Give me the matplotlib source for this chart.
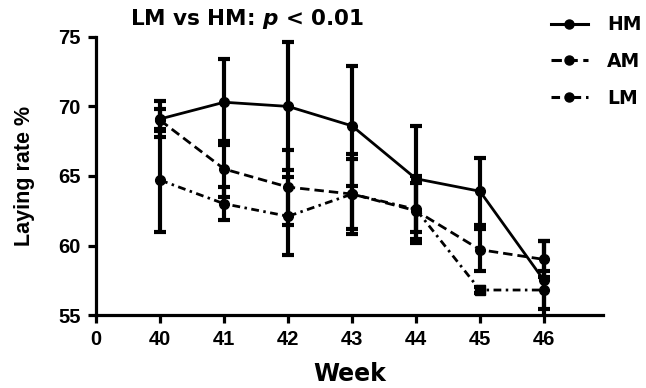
import matplotlib
matplotlib.use("Agg")
import matplotlib.pyplot as plt
from matplotlib.lines import Line2D

plt.rcParams['font.family'] = ['Liberation Sans', 'DejaVu Sans']
plt.rcParams['font.weight'] = 'bold'

weeks = ["40", "41", "42", "43", "44", "45", "46"]
hm = [69.1, 70.3, 70.0, 68.6, 64.8, 63.9, 57.5]
hm_err = [1.3, 3.1, 4.6, 4.3, 3.8, 2.4, 2.8]
am = [69.0, 65.5, 64.2, 63.7, 62.5, 59.7, 59.0]
am_err = [0.8, 2.0, 2.7, 2.5, 2.0, 1.5, 1.3]
lm = [64.7, 63.0, 62.1, 63.7, 62.6, 56.8, 56.8]
lm_err = [3.7, 1.2, 2.8, 2.9, 2.4, 0.2, 1.4]
lm_square_idx = 5

fig = plt.figure(figsize=(6.46, 3.88), dpi=100)
ax = fig.add_axes([0.149, 0.188, 0.784, 0.717])

x = list(range(1, len(weeks) + 1))
lw = 2.0
series = [
    ("HM", hm, hm_err, '-'),
    ("AM", am, am_err, (0, (3.4, 1.8))),
    ("LM", lm, lm_err, (0, (2.8, 1.6, 0.9, 1.6))),
]
for name, y, e, ls in series:
    if name == "LM":
        marks = [i for i in range(len(y)) if i != lm_square_idx]
    else:
        marks = list(range(len(y)))
    ax.errorbar(x, y, yerr=e, color='black', linestyle=ls, linewidth=lw,
                marker='o', markersize=7, markevery=marks,
                elinewidth=3, capsize=4, capthick=3)
    if name == "LM":
        ax.plot([x[lm_square_idx]], [y[lm_square_idx]], marker='s', markersize=7,
                color='black', linestyle='none')

ax.set_xlim(0, 7.92)
ax.set_ylim(55, 75)
ax.set_xticks([0] + x)
ax.set_xticklabels(["0"] + weeks)
ax.set_yticks([55, 60, 65, 70, 75])
for s in ['top', 'right']:
    ax.spines[s].set_visible(False)
for s in ['left', 'bottom']:
    ax.spines[s].set_linewidth(2.3)
ax.tick_params(width=2.3, length=6, labelsize=14.5, pad=5)
for lab in ax.get_xticklabels() + ax.get_yticklabels():
    lab.set_fontweight('bold')
ax.set_xlabel("Week", fontsize=17, fontweight='bold', labelpad=9,
              family=['DejaVu Sans'])
ax.set_ylabel("Laying rate %", fontsize=15.5, fontweight='bold', labelpad=17)

fig.text(0.382, 0.951, r"LM vs HM: $\boldsymbol{p}$ < 0.01", fontsize=15.5, fontweight='bold',
         ha='center', va='center', family=['DejaVu Sans'])

handles = [Line2D([0], [0], color='black', linestyle=ls, linewidth=2.2, marker='o', markersize=6.5)
           for _, _, _, ls in series]
leg = fig.legend(handles, [s[0] for s in series], loc='upper left', bbox_to_anchor=(0.835, 0.99),
                 frameon=False, prop={'weight': 'bold', 'size': 13.5, 'family': 'DejaVu Sans'},
                 handlelength=2.0, handletextpad=1.0, labelspacing=0.95, borderaxespad=0.2)
fig.savefig("out.png", dpi=100)
